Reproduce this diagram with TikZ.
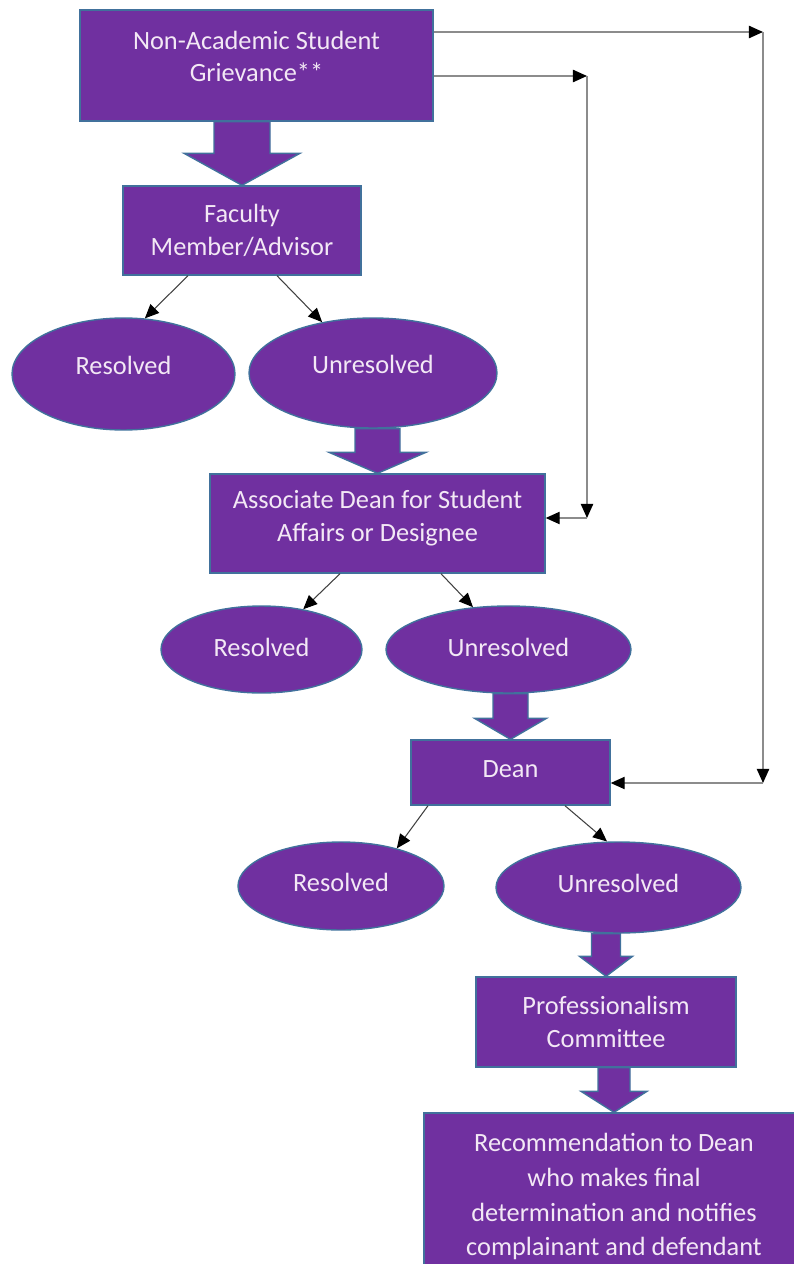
\documentclass[tikz,border=0pt]{standalone}
\usepackage{fontspec}
\setmainfont{Carlito}
\usetikzlibrary{shapes.geometric,arrows.meta,calc}

\definecolor{boxfill}{HTML}{7030A0}
\definecolor{boxline}{HTML}{41719C}
\definecolor{boxtext}{HTML}{F3E8F5}

\tikzset{
  box/.style={draw=boxline, fill=boxfill, text=boxtext, line width=0.8pt,
    inner sep=0pt, align=center, font=\fontsize{15}{18.5}\selectfont},
  rectbox/.style={box, rectangle},
  oval/.style={box, ellipse},
  link/.style={draw=black!75, line width=0.6pt, -{Triangle[length=8pt,width=7pt,color=black]}},
  route/.style={draw=black!45, line width=0.8pt, -{Triangle[length=8pt,width=7pt,color=black]}},
  blockarrow/.style={fill=boxfill, draw=boxline, line width=0.8pt, line join=miter},
}

% wide down arrow between two nodes: from, to, shaft half, head half, head length
\newcommand{\bigdownarrow}[5]{%
  \path (#2.north |- #1.south) coordinate (ba-top) (#2.north) coordinate (ba-tip);
  \filldraw [blockarrow] ($(ba-top)+(-#3,0)$) -- ($(ba-top)+(#3,0)$)
    -- ($(ba-tip)+(#3,-#5)$) -- ($(ba-tip)+(#4,-#5)$) -- (ba-tip)
    -- ($(ba-tip)+(-#4,-#5)$) -- ($(ba-tip)+(-#3,-#5)$) -- cycle;}

\begin{document}
\begin{tikzpicture}
    [x=0.02cm, y=-0.02cm]

    \useasboundingbox (0,0) rectangle (794,1264);
    \clip (0,0) rectangle (794,1264);

    \node [rectbox, minimum width=7.06cm, minimum height=2.22cm, text depth=0.36cm] at (256.5, 65.5) (griev) {Non-Academic Student\\Grievance**};
    \node [rectbox, minimum width=4.76cm, minimum height=1.78cm] at (242, 230.5) (faculty) {Faculty\\Member/Advisor};

    \node [oval, minimum width=4.46cm, minimum height=2.24cm, text depth=0.36cm] at (123.5, 374) (res1) {Resolved};
    \node [oval, minimum width=4.96cm, minimum height=2.20cm, text depth=0.34cm] at (373, 373) (unres1) {Unresolved};

    \node [rectbox, minimum width=6.70cm, minimum height=1.98cm, text depth=0.31cm] at (377.5, 523.5) (assoc) {Associate Dean for Student\\Affairs or Designee};

    \node [oval, minimum width=4.02cm, minimum height=1.74cm, text depth=0.1cm] at (261.5, 649.5) (res2) {Resolved};
    \node [oval, minimum width=4.90cm, minimum height=1.74cm, text depth=0.1cm] at (508.5, 649.5) (unres2) {Unresolved};

    \node [rectbox, minimum width=3.98cm, minimum height=1.30cm, text depth=0.12cm] at (510.5, 772.5) (dean) {Dean};

    \node [oval, minimum width=4.12cm, minimum height=1.76cm, text depth=0.16cm] at (341, 886) (res3) {Resolved};
    \node [oval, minimum width=4.90cm, minimum height=1.82cm, text depth=0.16cm] at (618.5, 887.5) (unres3) {Unresolved};

    \node [rectbox, minimum width=5.20cm, minimum height=1.80cm] at (606, 1022) (profcom) {Professionalism\\Committee};
    \node [rectbox, minimum width=7.60cm, minimum height=3.34cm, font=\fontsize{15}{19.9}\selectfont] at (614, 1196.5) (final) {Recommendation to Dean\\who makes final\\determination and notifies\\complainant and defendant};

    \bigdownarrow{griev}{faculty}{28}{58}{32}
    \bigdownarrow{unres1}{assoc}{22.5}{48.5}{21}
    \bigdownarrow{unres2}{dean}{17.5}{36}{21}
    \bigdownarrow{unres3}{profcom}{14.5}{26.5}{20}
    \bigdownarrow{profcom}{final}{16}{33}{21}

    \draw [link] ([xshift=-1.08cm]faculty.south) -- (res1.69);
    \draw [link] ([xshift=0.70cm]faculty.south) -- (unres1.135);
    \draw [link] ([xshift=-0.75cm]assoc.south) -- (res2.44);
    \draw [link] ([xshift=1.27cm]assoc.south) -- (unres2.130);
    \draw [link] ([xshift=-1.65cm]dean.south) -- (res3.34);
    \draw [link] ([xshift=1.09cm]dean.south) -- (unres3.104);

    \coordinate (cA1) at (763, 32);
    \coordinate (cA2) at (763, 783);
    \coordinate (cB1) at (587, 76);
    \coordinate (cB2) at (587, 518);

    \draw [route] (griev.east |- cA1) -- (cA1);
    \draw [route] (cA1) -- (cA2);
    \draw [route] (cA2) -- (cA2 -| dean.east);

    \draw [route] (griev.east |- cB1) -- (cB1);
    \draw [route] (cB1) -- (cB2);
    \draw [route] (cB2) -- (cB2 -| assoc.east);

  \end{tikzpicture}
\end{document}
